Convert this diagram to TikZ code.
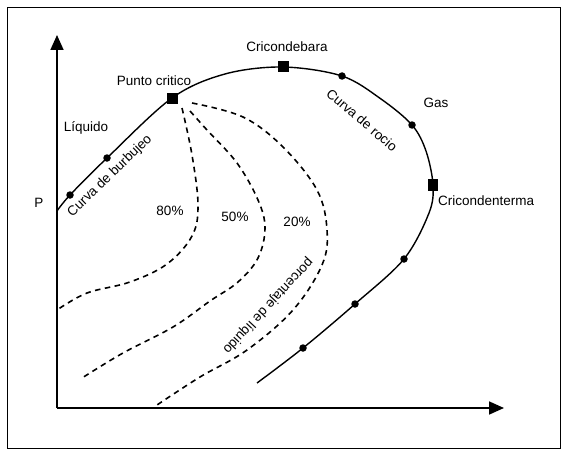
\documentclass[tikz,border=0pt]{standalone}
\usepackage{fontspec}
\setmainfont{Liberation Sans}
\usetikzlibrary{arrows.meta}
\begin{document}
\begin{tikzpicture}[x=1pt,y=-1pt,
  lbl/.style={font=\fontsize{13.5}{15}\selectfont, inner sep=0pt},
  axis/.style={line width=1.7pt, -{Triangle[length=15pt,width=13pt]}},
  envelope/.style={line width=1.4pt},
  quality/.style={line width=1.6pt, dash pattern=on 5.5pt off 4.5pt},
  dotmark/.style={circle, fill=black, inner sep=0pt, minimum size=7.5pt},
  sqmark/.style={rectangle, fill=black, inner sep=0pt, minimum size=11pt}]
\useasboundingbox (0,0) rectangle (562,452);
% frame
\draw[line width=1.4pt] (7.5,7.5) rectangle (560.5,448.5);

% axes
\coordinate (O) at (57,408);
\coordinate (ytop) at (57,35);
\coordinate (xend) at (504,408);
\draw[axis] (O) -- (ytop);
\draw[axis] (O) -- (xend);
\node[lbl] (P) at (39,203) {P};

% phase envelope points
\coordinate (e0) at (57,211);
\node[dotmark] (b1) at (70,195) {};
\node[dotmark] (b2) at (107,158) {};
\node[sqmark] (pc) at (172,98) {};
\coordinate (e1) at (225,74);
\node[sqmark] (cb) at (283,67) {};
\node[dotmark] (r1) at (342,76) {};
\coordinate (e2) at (381,99);
\node[dotmark] (r2) at (412,125) {};
\coordinate (e3) at (426,151);
\node[sqmark, minimum width=10pt, minimum height=12pt] (ct) at (433,185) {};
\coordinate (e4) at (429,213);
\node[dotmark] (r3) at (404,259) {};
\node[dotmark] (r4) at (355,304) {};
\node[dotmark] (r5) at (303,348) {};
\coordinate (e5) at (257,383);

\draw[envelope] plot[smooth, tension=0.55] coordinates
  {(e0) (b1) (b2) (pc) (e1) (cb) (r1) (e2) (r2) (e3) (ct) (e4) (r3) (r4) (r5) (e5)};

% quality lines
\draw[quality] plot[smooth, tension=0.6] coordinates
  {(182,108) (192,155) (198,205) (192,236) (167,264) (130,282) (87,293) (57,310)};
\draw[quality] plot[smooth, tension=0.6] coordinates
  {(190,111) (207,130) (237,163) (258,200) (265,228) (258,258) (238,282) (210,301) (173,327) (123,353) (82,378)};
\draw[quality] plot[smooth, tension=0.6] coordinates
  {(192,103) (243,117) (283,147) (317,190) (327,230) (322,265) (293,310) (247,350) (200,377) (157,405)};

% labels
\node[lbl] (tcb) at (287,47) {Cricondebara};
\node[lbl] (tpc) at (154,81) {Punto critico};
\node[lbl] (tliq) at (86,128) {Líquido};
\node[lbl] (tgas) at (436,103) {Gas};
\node[lbl, anchor=west] (tct) at (438,201) {Cricondenterma};
\node[lbl, rotate=44] (tbur) at (110,176) {Curva de burbujeo};
\node[lbl, rotate=-40.5] (troc) at (362,120) {Curva de rocio};
\node[lbl, rotate=227] (tpor) at (268,306) {porcentaje de líquido};
\node[lbl] (q80) at (170,211) {80\%};
\node[lbl] (q50) at (235,217) {50\%};
\node[lbl] (q20) at (297,222) {20\%};
\end{tikzpicture}
\end{document}
